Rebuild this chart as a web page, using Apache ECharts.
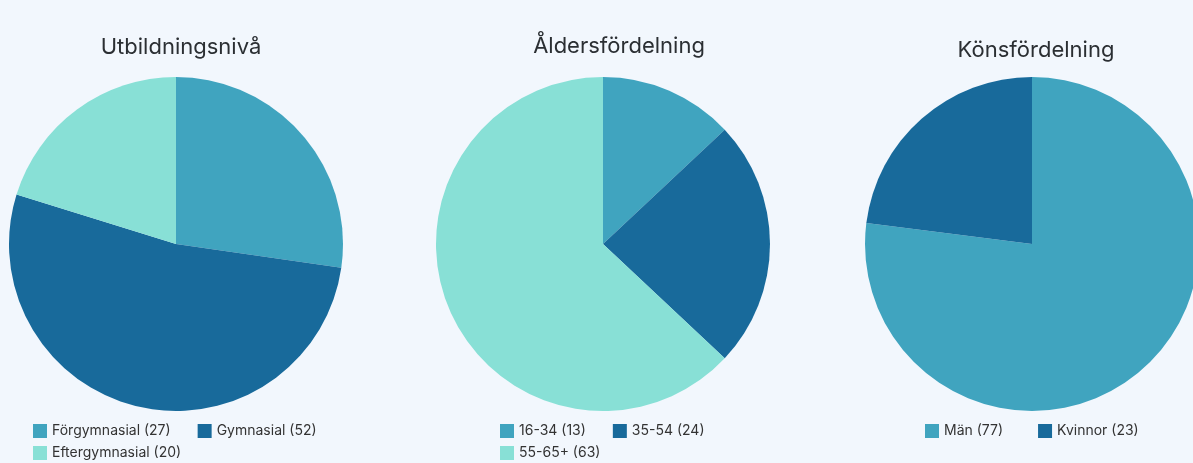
<!DOCTYPE html>
<html>
<head>
<meta charset="utf-8" />
<title>Fördelning</title>
<script src="https://cdn.jsdelivr.net/npm/echarts@6/dist/echarts.min.js"></script>
<style type="text/css">
	html, body { margin: 0; padding: 0; background: #f2f7fd; }
	#main { width: 1193px; height: 463px; }
</style>
</head>
<body>
<div id="main"></div>
<script type="text/javascript">
	// data
	var utbNames = ['Förgymnasial', 'Gymnasial', 'Eftergymnasial'];
	var utbValues = [27, 52, 20];
	var alderNames = ['16-34', '35-54', '55-65+'];
	var alderValues = [13, 24, 63];
	var konNames = ['Män', 'Kvinnor'];
	var konValues = [77, 23];
	var colors = ['#40a4bf', '#186a9b', '#88e0d6'];

	var font = 'Inter, "Open Sans", sans-serif';
	var valueOf = {};
	function toData(names, values) {
		var d = [];
		for (var i = 0; i < names.length; i++) {
			valueOf[names[i]] = values[i];
			d.push({ name: names[i], value: values[i] });
		}
		return d;
	}
	var utbData = toData(utbNames, utbValues);
	var alderData = toData(alderNames, alderValues);
	var konData = toData(konNames, konValues);

	function pie(data, cx) {
		return {
			type: 'pie',
			radius: 167,
			center: [cx, 244],
			startAngle: 90,
			clockwise: true,
			label: { show: false },
			labelLine: { show: false },
			itemStyle: { borderWidth: 0 },
			emphasis: { scale: false },
			data: data
		};
	}
	function legend(names, left, top, gap) {
		return {
			data: names,
			left: left,
			top: top,
			padding: 0,
			orient: 'horizontal',
			icon: 'rect',
			itemWidth: 14,
			itemHeight: 14,
			itemGap: gap || 27,
			selectedMode: false,
			formatter: function (n) { return n + ' (' + valueOf[n] + ')'; },
			textStyle: { fontFamily: font, fontSize: 14, color: '#333' }
		};
	}
	function title(text, cx, y) {
		return {
			text: text,
			left: cx,
			top: y,
			textAlign: 'center',
			textStyle: { fontFamily: font, fontSize: 22, fontWeight: 'normal', color: '#2b2f33' }
		};
	}

	var myChart = echarts.init(document.getElementById('main'));
	myChart.setOption({
		backgroundColor: '#f2f7fd',
		color: colors,
		animation: false,
		title: [
			title('Utbildningsnivå', 176, 31),
			title('Åldersfördelning', 614, 30),
			title('Könsfördelning', 1031, 34)
		],
		legend: [
			legend(['Förgymnasial', 'Gymnasial'], 33, 424),
			legend(['Eftergymnasial'], 33, 446),
			legend(['16-34', '35-54'], 500, 424),
			legend(['55-65+'], 500, 446),
			legend(['Män', 'Kvinnor'], 925, 424, 35)
		],
		series: [
			pie(utbData, 176),
			pie(alderData, 603),
			pie(konData, 1032)
		]
	});
</script>
</body>
</html>
